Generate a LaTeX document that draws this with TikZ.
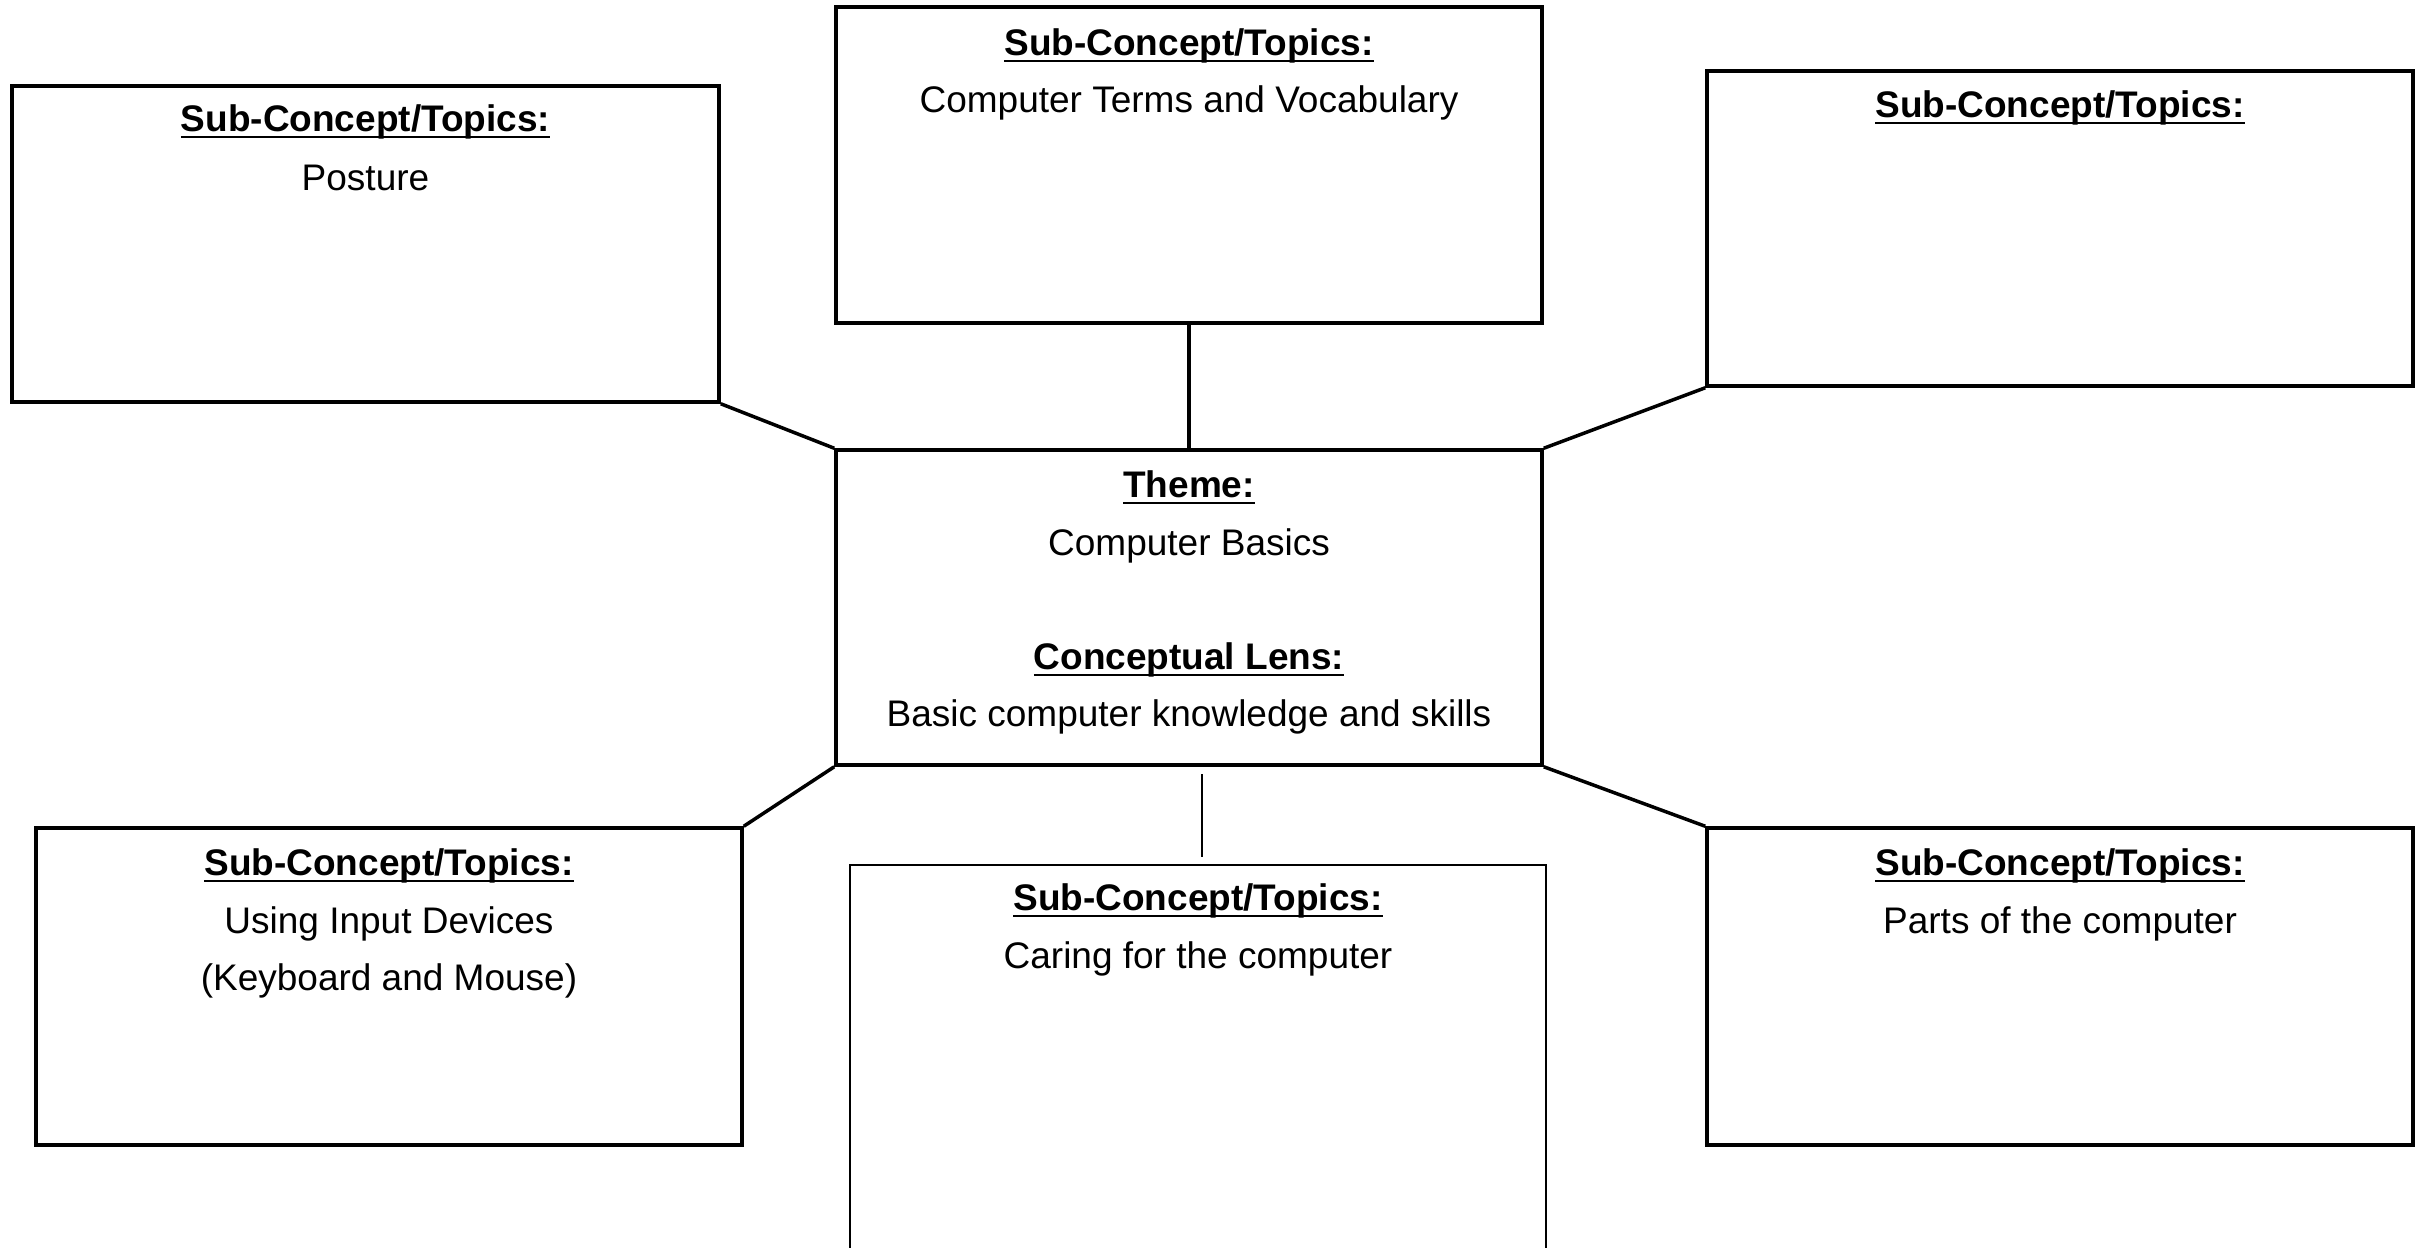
\documentclass[tikz,border=0pt]{standalone}
\usepackage{fontspec}
\setmainfont{Liberation Sans}
\usetikzlibrary{fit}
% bold heading with a Word-style underline at a fixed depth
\newsavebox\ulbox
\newcommand\ulhead[1]{\sbox\ulbox{\bfseries #1}\rlap{\rule[-2.2pt]{\wd\ulbox}{0.85pt}}\usebox\ulbox}
\begin{document}
\begin{tikzpicture}[x=0.3pt,y=-0.3pt,
  panel/.style={draw, line width=1.05pt, inner sep=0pt},
  thinpanel/.style={draw, line width=0.6pt, inner sep=0pt},
  link/.style={line width=1.05pt},
  thinlink/.style={line width=0.6pt},
  txt/.style={anchor=base, inner sep=0pt, font=\fontsize{11.1pt}{13pt}\selectfont}]
\fill[white] (0,0) rectangle (2424,1247);
\clip (0,0) rectangle (2424,1247);

% panels
\node[panel, fit={(12,86) (719,402)}] (TL) {};
\node[panel, fit={(836,7) (1542,323)}] (TC) {};
\node[panel, fit={(1707,71) (2413,386)}] (TR) {};
\node[panel, fit={(836,450) (1542,765)}] (C) {};
\node[panel, fit={(36,828) (742,1145)}] (BL) {};
\node[thinpanel, fit={(850,865) (1546,1320)}] (BC) {};
\node[panel, fit={(1707,828) (2413,1145)}] (BR) {};

% connectors
\draw[link] (TL.south east) -- (C.north west);
\draw[link] (TC.south) -- (C.north);
\draw[link] (C.north east) -- (TR.south west);
\draw[link] (C.south west) -- (BL.north east);
\draw[link] (C.south east) -- (BR.north west);
\coordinate (s1) at (1202,774);
\coordinate (s2) at (1202,857);
\draw[thinlink] (s1) -- (s2);

% texts
\node[txt] (TLh) at (365.5,131) {\ulhead{Sub-Concept/Topics:}};
\node[txt] (TLa) at (365.5,190) {Posture};

\node[txt] (TCh) at (1189,55) {\ulhead{Sub-Concept/Topics:}};
\node[txt] (TCa) at (1189,112) {Computer Terms and Vocabulary};

\node[txt] (TRh) at (2060,117) {\ulhead{Sub-Concept/Topics:}};

\node[txt] (Ch) at (1189,497) {\ulhead{Theme:}};
\node[txt] (Ca) at (1189,555) {Computer Basics};
\node[txt] (Cl) at (1189,669) {\ulhead{Conceptual Lens:}};
\node[txt] (Cb) at (1189,726) {Basic computer knowledge and skills};

\node[txt] (BLh) at (389,875) {\ulhead{Sub-Concept/Topics:}};
\node[txt] (BLa) at (389,933) {Using Input Devices};
\node[txt] (BLb) at (389,990) {(Keyboard and Mouse)};

\node[txt] (BCh) at (1198,910) {\ulhead{Sub-Concept/Topics:}};
\node[txt] (BCa) at (1198,968) {Caring for the computer};

\node[txt] (BRh) at (2060,875) {\ulhead{Sub-Concept/Topics:}};
\node[txt] (BRa) at (2060,933) {Parts of the computer};
\end{tikzpicture}
\end{document}
